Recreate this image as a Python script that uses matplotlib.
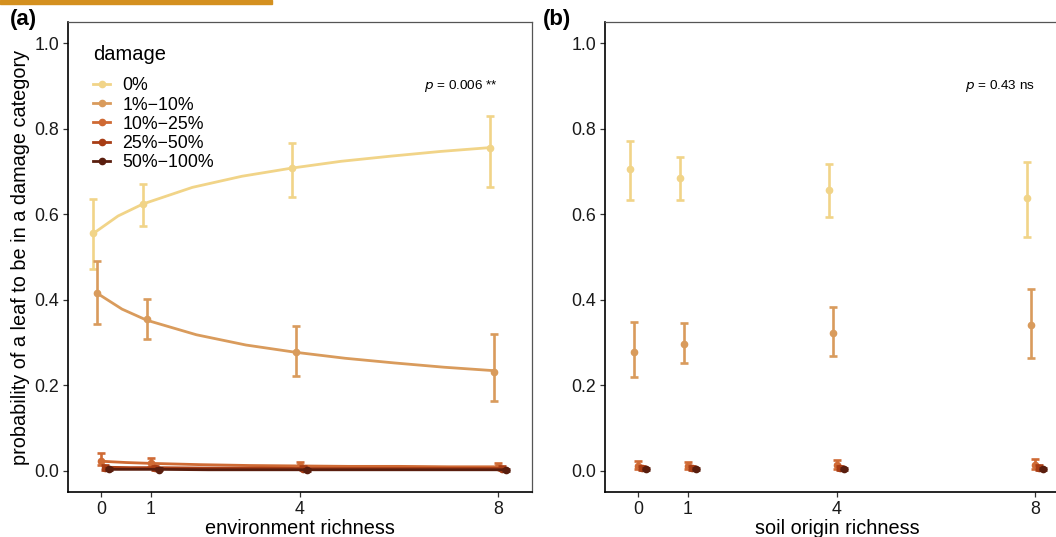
import numpy as np
import matplotlib
matplotlib.use('Agg')
import matplotlib.pyplot as plt
from matplotlib.lines import Line2D
from matplotlib.patches import Rectangle

plt.rcParams['font.family'] = ['Liberation Sans', 'DejaVu Sans']

# damage categories and colours
damage = ['0%', '1%\u221210%', '10%\u221225%', '25%\u221250%', '50%\u2212100%']
colors = ['#F1D488', '#D99B5C', '#CF6A34', '#A83D15', '#5A1E0E']
richness = [0, 1, 4, 8]

# panel (a): environment richness, estimates and CI bounds
env_mean = [[0.555, 0.624, 0.708, 0.756],
            [0.415, 0.354, 0.277, 0.232],
            [0.023, 0.017, 0.011, 0.009],
            [0.007, 0.006, 0.005, 0.004],
            [0.003, 0.002, 0.002, 0.002]]
env_lo = [[0.472, 0.573, 0.641, 0.663],
          [0.343, 0.308, 0.222, 0.163],
          [0.013, 0.008, 0.005, 0.004],
          [0.002, 0.002, 0.001, 0.001],
          [0.001, 0.001, 0.000, 0.000]]
env_hi = [[0.635, 0.672, 0.767, 0.831],
          [0.491, 0.401, 0.339, 0.319],
          [0.041, 0.030, 0.021, 0.018],
          [0.014, 0.012, 0.010, 0.010],
          [0.007, 0.006, 0.005, 0.005]]

# fitted curves for panel (a)
curve_x = [0, 0.5, 1, 2, 3, 4, 5, 6, 7, 8]
curve_y = [[0.555, 0.596, 0.624, 0.663, 0.689, 0.708, 0.724, 0.736, 0.747, 0.756],
           [0.415, 0.378, 0.352, 0.318, 0.294, 0.277, 0.263, 0.252, 0.242, 0.234],
           [0.022, 0.019, 0.017, 0.014, 0.012, 0.011, 0.010, 0.010, 0.009, 0.009],
           [0.008, 0.007, 0.007, 0.006, 0.006, 0.005, 0.005, 0.005, 0.005, 0.005],
           [0.003, 0.003, 0.003, 0.002, 0.002, 0.002, 0.002, 0.002, 0.002, 0.002]]

# panel (b): soil origin richness
soil_mean = [[0.706, 0.686, 0.657, 0.639],
             [0.278, 0.297, 0.323, 0.340],
             [0.012, 0.012, 0.013, 0.014],
             [0.006, 0.006, 0.006, 0.006],
             [0.003, 0.003, 0.003, 0.003]]
soil_lo = [[0.633, 0.634, 0.594, 0.546],
           [0.218, 0.252, 0.268, 0.263],
           [0.005, 0.005, 0.005, 0.005],
           [0.002, 0.002, 0.002, 0.002],
           [0.001, 0.001, 0.001, 0.001]]
soil_hi = [[0.771, 0.734, 0.717, 0.722],
           [0.347, 0.346, 0.383, 0.426],
           [0.022, 0.021, 0.025, 0.028],
           [0.012, 0.012, 0.012, 0.013],
           [0.006, 0.006, 0.006, 0.006]]

dodge = [-0.16, -0.08, 0.0, 0.08, 0.16]

fig = plt.figure(figsize=(10.56, 5.37), dpi=100)
fig.patches.append(Rectangle((0, 1 - 4 / 537), 272 / 1056, 4 / 537,
                             transform=fig.transFigure, color='#D4901F', zorder=5))

ax_a = fig.add_axes([68 / 1056, 45 / 537, 464 / 1056, 470 / 537])
ax_b = fig.add_axes([605 / 1056, 45 / 537, 464 / 1056, 470 / 537])


def draw_points(ax, mean, lo, hi):
    for i in range(len(damage)):
        xs = np.array(richness) + dodge[i]
        m = np.array(mean[i])
        err = [m - np.array(lo[i]), np.array(hi[i]) - m]
        ax.errorbar(xs, m, yerr=err, fmt='o', color=colors[i], ms=4.5,
                    elinewidth=1.9, capsize=3.2, capthick=1.9, zorder=3 + i)


# panel a
for i in range(len(damage)):
    ax_a.plot(np.array(curve_x) + dodge[i], curve_y[i], color=colors[i], lw=2.0, zorder=3 + i)
draw_points(ax_a, env_mean, env_lo, env_hi)
draw_points(ax_b, soil_mean, soil_lo, soil_hi)

for ax in (ax_a, ax_b):
    ax.set_xlim(-0.67, 8.69)
    ax.set_ylim(-0.05, 1.05)
    ax.set_xticks(richness)
    ax.set_yticks([0.0, 0.2, 0.4, 0.6, 0.8, 1.0])
    ax.set_yticklabels(['0.0', '0.2', '0.4', '0.6', '0.8', '1.0'])
    ax.tick_params(labelsize=12.8, length=3.5, width=0.9, colors='#333333', labelcolor='#1a1a1a', pad=3)
    for side in ('top', 'right'):
        ax.spines[side].set_color('#555555')
        ax.spines[side].set_linewidth(0.9)
    for side in ('left', 'bottom'):
        ax.spines[side].set_color('black')
        ax.spines[side].set_linewidth(1.2)

ax_a.set_xlabel('environment richness', fontsize=14.3, labelpad=1)
ax_b.set_xlabel('soil origin richness', fontsize=14.3, labelpad=1)
ax_a.set_ylabel('probability of a leaf to be in a damage category', fontsize=14.3, labelpad=3)

ax_a.text(8.0, 0.9, r'$p$ = 0.006 **', ha='right', va='center', fontsize=9.7)
ax_b.text(8.0, 0.9, r'$p$ = 0.43 ns', ha='right', va='center', fontsize=9.7)

fig.text(10 / 1056, 1 - 20 / 537, '(a)', fontsize=16, fontweight='bold', va='center')
fig.text(543 / 1056, 1 - 20 / 537, '(b)', fontsize=16, fontweight='bold', va='center')

handles = [Line2D([0], [0], color=c, lw=2.0, marker='o', ms=4.5) for c in colors]
leg = ax_a.legend(handles, damage, title='damage', loc='upper left',
                  bbox_to_anchor=(0.054, 0.952), frameon=False, fontsize=12.8,
                  title_fontsize=14.5, handlelength=0.95, handletextpad=0.7,
                  labelspacing=0.12, borderaxespad=0, borderpad=0)
leg._legend_box.align = 'left'
leg._legend_box.sep = 10

fig.savefig('out.png', dpi=100)
